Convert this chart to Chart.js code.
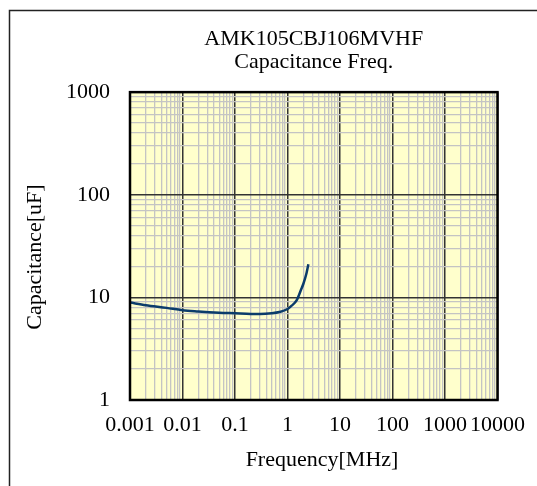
<!DOCTYPE html>
<html>
<head>
<meta charset="utf-8">
<script src="https://cdn.jsdelivr.net/npm/chart.js@4.4.0/dist/chart.umd.min.js"></script>
<style>
  html, body { margin: 0; padding: 0; background: #ffffff; }
  #graphCanvas { display: block; }
</style>
</head>
<body>
<canvas id="graphCanvas" width="537" height="486"></canvas>
<script>
// values
var freqMHz = [0.001, 0.002, 0.005, 0.01, 0.02, 0.05, 0.1, 0.2, 0.3, 0.5, 0.7, 1.0, 1.2, 1.5, 1.8, 2.0, 2.3, 2.5];
var capUF   = [8.9,   8.4,   7.9,   7.5,  7.3,  7.1,  7.0, 6.9, 6.88, 7.0, 7.2, 7.7, 8.3, 9.4, 11.8, 13.5, 17.2, 21];

var xDecades = [-3, -2, -1, 0, 1, 2, 3, 4];
var yDecades = [0, 1, 2, 3];
var titleLines = ['AMK105CBJ106MVHF', 'Capacitance Freq.'];

var serif = "'Liberation Serif', 'Times New Roman', serif";

function logTicks(decades) {
    var ticks = [];
    for (var i = 0; i < decades.length; i++) {
        var base = Math.pow(10, decades[i]);
        var last = (i == decades.length - 1) ? 1 : 9;
        for (var m = 1; m <= last; m++) {
            ticks.push({ value: parseFloat((m * base).toPrecision(6)) });
        }
    }
    return ticks;
}

function isMajor(v) {
    var l = Math.log10(v);
    return Math.abs(l - Math.round(l)) < 1e-6;
}

var gridOpts = {
    drawTicks: false,
    color: function (ctx) { return isMajor(ctx.tick.value) ? '#333333' : '#c4c4c4'; },
    lineWidth: function (ctx) { return isMajor(ctx.tick.value) ? 1.5 : 1.3; }
};

var points = [];
for (var i = 0; i < freqMHz.length; i++) {
    points.push({ x: freqMHz[i], y: capUF[i] });
}

var framePlugin = {
    id: 'frame',
    beforeDraw: function (chart) {
        var c = chart.ctx, a = chart.chartArea;
        c.save();
        c.fillStyle = '#ffffcc';
        c.fillRect(a.left, a.top, a.right - a.left, a.bottom - a.top);
        c.strokeStyle = '#222';
        c.lineWidth = 1.5;
        c.strokeRect(9.5, 10.5, 600, 600);
        c.restore();
    },
    afterDraw: function (chart) {
        var c = chart.ctx, a = chart.chartArea;
        c.save();
        c.strokeStyle = '#000';
        c.lineWidth = 2.5;
        c.strokeRect(a.left, a.top, a.right - a.left, a.bottom - a.top);
        c.restore();
    }
};

new Chart(document.getElementById('graphCanvas'), {
    type: 'line',
    data: {
        datasets: [{
            data: points,
            borderColor: '#0b3c6b',
            borderWidth: 2.5,
            pointRadius: 0,
            fill: false,
            cubicInterpolationMode: 'monotone'
        }]
    },
    options: {
        responsive: false,
        animation: false,
        devicePixelRatio: 1,
        layout: { padding: { top: 0, right: 31, bottom: 0, left: 0 } },
        plugins: {
            legend: { display: false },
            tooltip: { enabled: false },
            title: {
                display: true,
                text: titleLines,
                fullSize: false,
                color: '#000',
                font: { family: serif, size: 22, weight: 'normal', lineHeight: 1.06 },
                padding: { top: 27.5, bottom: 18 }
            }
        },
        scales: {
            x: {
                type: 'logarithmic',
                min: 0.001,
                max: 10000,
                afterBuildTicks: function (axis) { axis.ticks = logTicks(xDecades); },
                afterFit: function (axis) { axis.height = 86; },
                grid: gridOpts,
                border: { display: false },
                ticks: {
                    autoSkip: false,
                    maxRotation: 0,
                    minRotation: 0,
                    padding: 12,
                    color: '#000',
                    font: { family: serif, size: 22 },
                    callback: function (v) { return isMajor(v) ? String(v) : ''; }
                },
                title: {
                    display: true,
                    // leading spaces nudge the label right like the original
                    text: '   Frequency[MHz]',
                    color: '#000',
                    font: { family: serif, size: 22 },
                    padding: { top: 0, bottom: 13 }
                }
            },
            y: {
                type: 'logarithmic',
                min: 1,
                max: 1000,
                afterBuildTicks: function (axis) { axis.ticks = logTicks(yDecades); },
                afterFit: function (axis) { axis.width = 130; },
                grid: gridOpts,
                border: { display: false },
                ticks: {
                    autoSkip: false,
                    padding: 20,
                    color: '#000',
                    font: { family: serif, size: 22 },
                    callback: function (v) { return isMajor(v) ? String(v) : ''; }
                },
                title: {
                    display: true,
                    // trailing spaces push the label a bit lower
                    text: 'Capacitance[uF]    ',
                    color: '#000',
                    font: { family: serif, size: 22 },
                    padding: { top: 22, bottom: 0 }
                }
            }
        }
    },
    plugins: [framePlugin]
});
</script>
</body>
</html>
